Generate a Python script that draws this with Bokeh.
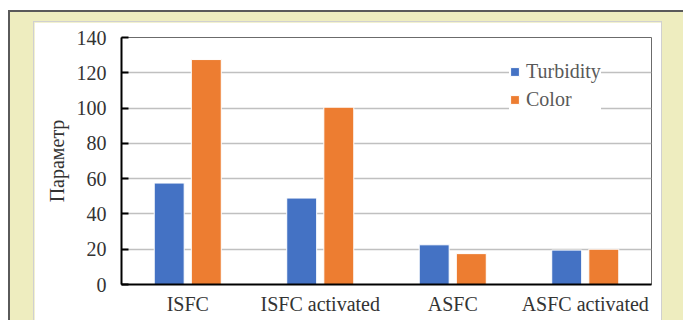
from bokeh.plotting import figure
from bokeh.models import ColumnDataSource, FactorRange, Legend, LegendItem
from bokeh.transform import dodge
from bokeh.layouts import column
from bokeh.embed import file_html
from bokeh.resources import INLINE

categories = ["ISFC", "ISFC activated", "ASFC", "ASFC activated"]
turbidity = [57.5, 49.0, 22.5, 19.5]
color_vals = [127.5, 100.5, 17.5, 20.0]
y_ticks = [0, 20, 40, 60, 80, 100, 120, 140]

source = ColumnDataSource(data=dict(cat=categories, turbidity=turbidity, color=color_vals))

FONT = "Liberation Serif"

p = figure(
    x_range=FactorRange(*categories),
    y_range=(0, 140),
    frame_width=530, frame_height=247,
    output_backend="svg",
    toolbar_location=None,
    min_border_left=87, min_border_right=10,
    min_border_top=15, min_border_bottom=40,
)
p.margin = (10, 0, 0, 24)
p.styles = {"outline": "1px solid #d0d0d0"}
p.background_fill_color = "white"
p.border_fill_color = "white"
p.outline_line_color = "#6b6b6b"
p.outline_line_width = 1

blue = p.vbar(x=dodge("cat", -0.14, range=p.x_range), top="turbidity", width=0.226,
              source=source, fill_color="#4472C4", line_color="#ffffff", line_width=1)
orange = p.vbar(x=dodge("cat", 0.14, range=p.x_range), top="color", width=0.226,
                source=source, fill_color="#ED7D31", line_color="#ffffff", line_width=1)

# grid
p.xgrid.grid_line_color = None
p.ygrid.ticker = y_ticks
p.ygrid.grid_line_color = "#c0c0c0"
p.ygrid.grid_line_width = 1.5

# y axis
p.yaxis.ticker = y_ticks
p.yaxis.axis_line_color = "black"
p.yaxis.axis_line_width = 2
p.yaxis.major_tick_line_color = "black"
p.yaxis.major_tick_line_width = 2
p.yaxis.major_tick_in = 7
p.yaxis.major_tick_out = 0
p.yaxis.minor_tick_line_color = None
p.yaxis.major_label_text_font = FONT
p.yaxis.major_label_text_font_size = "20px"
p.yaxis.major_label_text_color = "#333333"
p.yaxis.major_label_standoff = 15
p.yaxis.axis_label = "Параметр"
p.yaxis.axis_label_text_font = FONT
p.yaxis.axis_label_text_font_style = "normal"
p.yaxis.axis_label_text_font_size = "20px"
p.yaxis.axis_label_text_color = "#333333"
p.yaxis.axis_label_standoff = 6

# x axis
p.xaxis.axis_line_color = "black"
p.xaxis.axis_line_width = 2
p.xaxis.major_tick_line_color = None
p.xaxis.minor_tick_line_color = None
p.xaxis.major_label_text_font = FONT
p.xaxis.major_label_text_font_size = "20px"
p.xaxis.major_label_text_color = "#333333"
p.xaxis.major_label_standoff = 2

legend = Legend(
    items=[LegendItem(label="Turbidity", renderers=[blue]),
           LegendItem(label="Color", renderers=[orange])],
    location=(388, 173),
    orientation="vertical",
    background_fill_color="white",
    background_fill_alpha=1,
    border_line_color=None,
    label_text_font=FONT,
    label_text_font_size="20px",
    label_text_color="#595959",
    glyph_width=11, glyph_height=11,
    label_height=20, spacing=5,
    padding=16, margin=0,
    label_standoff=6,
)
p.add_layout(legend, "center")

page = column(
    p,
    margin=(10, 0, 0, 8),
    styles={
        "background-color": "#eeedbf",
        "border-top": "2px solid #5a5a5a",
        "border-left": "2px solid #5a5a5a",
        "width": "675px",
    },
)

open("out.html", "w").write(file_html(page, INLINE))
